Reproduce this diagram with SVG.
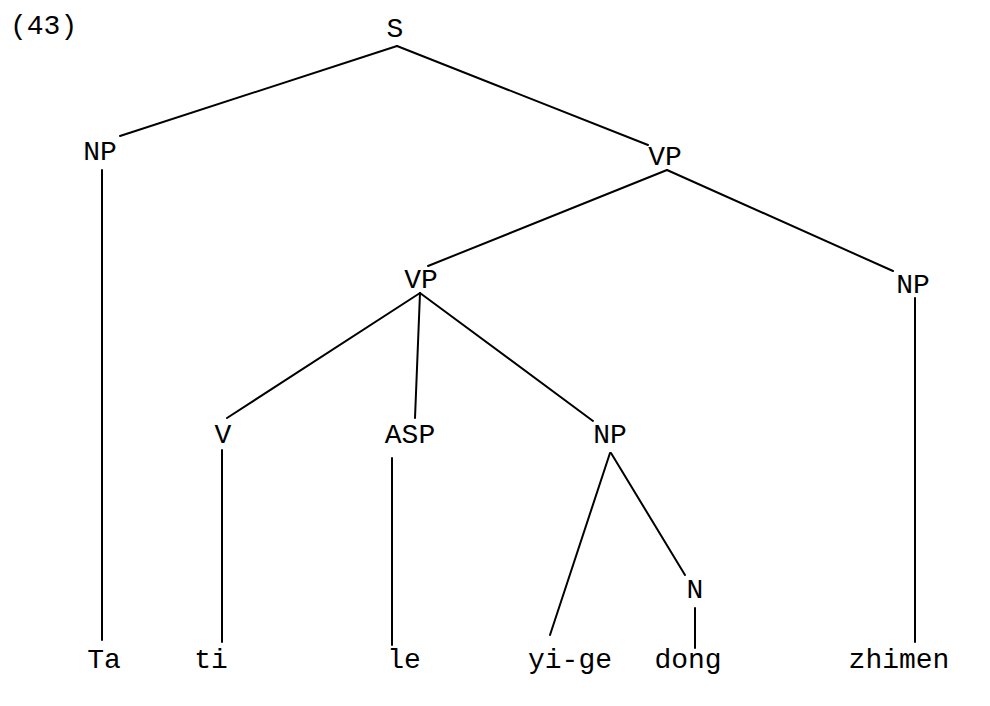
<svg xmlns="http://www.w3.org/2000/svg" width="990" height="706" viewBox="0 0 990 706">
<style>
text{font-family:"Liberation Mono","Courier New",monospace;font-size:28px;fill:#000;text-anchor:middle}
.c line{stroke:#000;stroke-width:2;stroke-linecap:round}
</style>
<rect width="990" height="706" fill="#fff"/>
<text x="10" y="34" style="text-anchor:start">(43)</text>
<g class="c" id="connectors">
<line x1="397" y1="46" x2="120" y2="136"/>
<line x1="397" y1="46" x2="648" y2="145"/>
<line x1="667" y1="170" x2="428" y2="266"/>
<line x1="667" y1="170" x2="893" y2="271"/>
<line x1="420" y1="293" x2="227" y2="418"/>
<line x1="420" y1="293" x2="415" y2="418"/>
<line x1="420" y1="293" x2="593" y2="421"/>
<line x1="102" y1="170" x2="102" y2="640"/>
<line x1="222" y1="450" x2="222" y2="642"/>
<line x1="392" y1="458" x2="392" y2="645"/>
<line x1="610" y1="453" x2="550" y2="635"/>
<line x1="611" y1="453" x2="685" y2="575"/>
<line x1="695" y1="608" x2="695" y2="648"/>
<line x1="915" y1="298" x2="915" y2="642"/>
</g>
<g id="S"><text x="395" y="37">S</text></g>
<g id="NP1"><text x="100" y="160">NP</text></g>
<g id="VP1"><text x="665" y="165">VP</text></g>
<g id="VP2"><text x="421" y="288">VP</text></g>
<g id="NP2"><text x="913" y="293">NP</text></g>
<g id="V"><text x="223" y="443">V</text></g>
<g id="ASP"><text x="410" y="443">ASP</text></g>
<g id="NP3"><text x="610" y="443">NP</text></g>
<g id="N"><text x="695" y="598">N</text></g>
<g id="Ta"><text x="104" y="668">Ta</text></g>
<g id="ti"><text x="211" y="668">ti</text></g>
<g id="le"><text x="404" y="668">le</text></g>
<g id="yige"><text x="570" y="668">yi-ge</text></g>
<g id="dong"><text x="688" y="668">dong</text></g>
<g id="zhimen"><text x="899" y="668">zhimen</text></g>
</svg>
